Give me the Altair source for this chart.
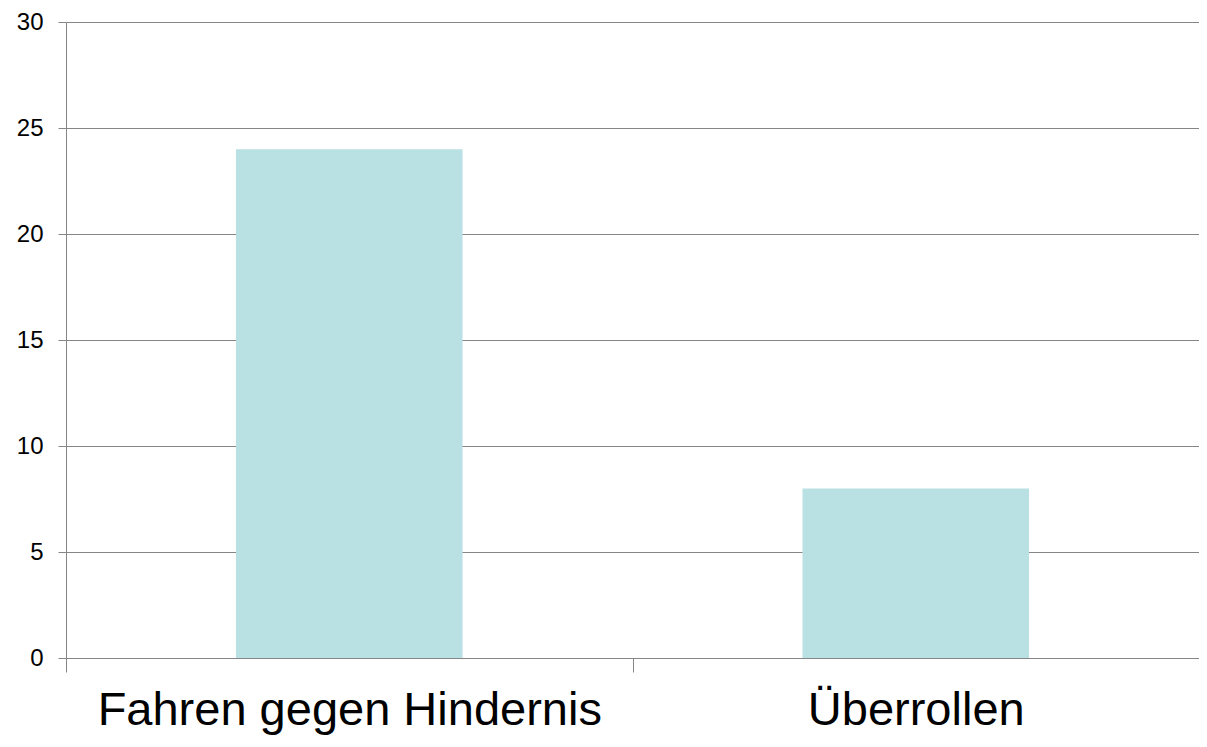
import altair as alt
import pandas as pd

categories = ["Fahren gegen Hindernis", "Überrollen"]
values = [24, 8]
y_ticks = [0, 5, 10, 15, 20, 25, 30]

df = pd.DataFrame({"cat": categories, "val": values})

grid_col = "#868686"
W = 1133
step = W / 2

chart = alt.Chart(df).mark_bar(color="#B9E0E3").encode(
    x=alt.X("cat:N", sort=categories, title=None,
            scale=alt.Scale(paddingInner=0.6, paddingOuter=0.3),
            axis=alt.Axis(labelAngle=0, labelFontSize=47, labelFont="Liberation Sans",
                          labelColor="#000000", tickSize=14, labelLimit=0,
                          tickOffset=-step / 2, labelOffset=step / 2,
                          tickColor=grid_col, domainColor=grid_col, labelPadding=15,
                          labelBaseline="top")),
    y=alt.Y("val:Q", title=None,
            scale=alt.Scale(domain=[0, 30], nice=False),
            axis=alt.Axis(values=y_ticks, labelFontSize=24, labelFont="Liberation Sans",
                          labelColor="#000000", tickSize=8, tickColor=grid_col,
                          domainColor=grid_col, gridColor=grid_col, grid=True,
                          labelPadding=15)),
).properties(
    width=W, height=636,
    autosize=alt.AutoSizeParams(type="none"),
    padding={"left": 58, "top": 14, "right": 0, "bottom": 81},
).configure_view(stroke=None).configure_axis(gridOpacity=1, domainWidth=1, tickWidth=1, gridWidth=1)

chart.save("out.html", embed_options={"renderer": "svg", "actions": False})
